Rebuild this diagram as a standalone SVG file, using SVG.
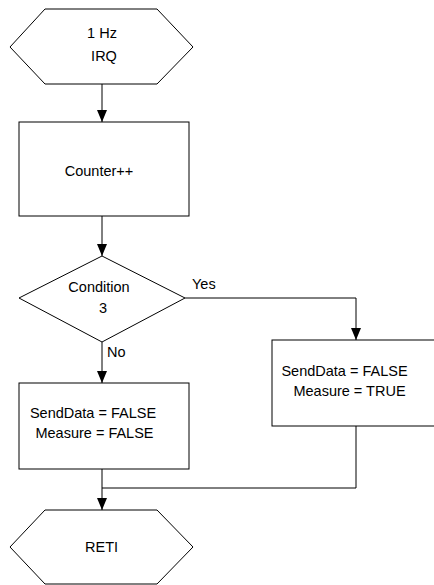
<svg xmlns="http://www.w3.org/2000/svg" width="434" height="585" viewBox="0 0 434 585">
<style>
.s{fill:#fff;stroke:#000;stroke-width:1}
.c{fill:none;stroke:#000;stroke-width:1}
text{font-family:"Liberation Sans",Arial,sans-serif;font-size:14.5px;fill:#000}
.m{text-anchor:middle}
</style>
<defs>
<marker id="ah" viewBox="0 0 12 10" refX="12" refY="5" markerWidth="12" markerHeight="10" markerUnits="userSpaceOnUse" orient="auto">
<path d="M0,0 L12,5 L0,10 Z" fill="#000"/>
</marker>
</defs>
<g id="connectors">
<line class="c" x1="102" y1="84" x2="102" y2="122" marker-end="url(#ah)"/>
<line class="c" x1="102" y1="216" x2="102" y2="256" marker-end="url(#ah)"/>
<polyline class="c" points="185,298 356,298 356,340" marker-end="url(#ah)"/>
<line class="c" x1="102" y1="342" x2="102" y2="383" marker-end="url(#ah)"/>
<line class="c" x1="102" y1="469" x2="102" y2="510" marker-end="url(#ah)"/>
<polyline class="c" points="356,426 356,488 102,488"/>
<text x="192" y="289">Yes</text>
<text x="107" y="357">No</text>
</g>
<g id="start">
<polygon class="s" points="10,47 45,9 157,9 193,47 157,84 45,84"/>
<text class="m" x="102" y="38">1 Hz</text>
<text class="m" x="104" y="61">IRQ</text>
</g>
<g id="counter">
<rect class="s" x="19" y="122" width="170" height="94"/>
<text class="m" x="99" y="176">Counter++</text>
</g>
<g id="condition">
<polygon class="s" points="102,256 185,298 102,342 19,298"/>
<text class="m" x="99" y="292">Condition</text>
<text class="m" x="103" y="313">3</text>
</g>
<g id="yesbox">
<rect class="s" x="272" y="340" width="170" height="86"/>
<text class="m" x="344.5" y="376">SendData = FALSE</text>
<text class="m" x="349.5" y="396">Measure = TRUE</text>
</g>
<g id="nobox">
<rect class="s" x="19" y="383" width="170" height="86"/>
<text class="m" x="93" y="418">SendData = FALSE</text>
<text class="m" x="94.5" y="438">Measure = FALSE</text>
</g>
<g id="end">
<polygon class="s" points="10,547 45,510 157,510 193,547 157,584 45,584"/>
<text class="m" x="101.5" y="552">RETI</text>
</g>
</svg>
